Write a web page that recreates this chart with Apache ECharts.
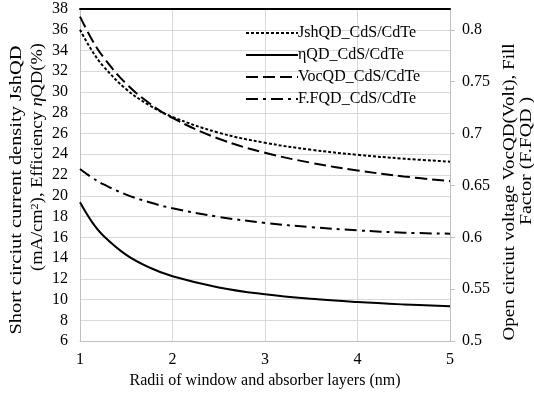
<!DOCTYPE html>
<html>
<head>
<meta charset="utf-8">
<script src="https://cdn.jsdelivr.net/npm/echarts@6/dist/echarts.min.js"></script>
<style>
  html, body { margin: 0; padding: 0; background: #fff; }
  #chart { width: 534px; height: 394px; }
</style>
</head>
<body>
<div id="chart"></div>
<script>
// Radius of window / absorber layers (nm)
const radii = [1, 1.125, 1.25, 1.5, 1.75, 2, 2.5, 3, 3.5, 4, 4.5, 5];

// Left axis: short circuit current density (mA/cm2) and efficiency (%)
const jshQD = [36.0, 34.04, 32.51, 30.27, 28.73, 27.6, 26.08, 25.11, 24.44, 23.95, 23.58, 23.29];
const etaQD = [19.37, 17.54, 16.18, 14.31, 13.09, 12.25, 11.17, 10.51, 10.07, 9.76, 9.53, 9.35];

// Right axis: open circuit voltage (V) and fill factor
const vocQD = [0.8126, 0.7912, 0.7739, 0.7479, 0.7292, 0.715, 0.695, 0.6815, 0.6718, 0.6644, 0.6587, 0.6541];
const ffQD = [0.6658, 0.6578, 0.6513, 0.6412, 0.6338, 0.628, 0.6197, 0.6139, 0.6098, 0.6067, 0.6045, 0.6035];

const seriesNames = ['JshQD_CdS/CdTe', '\u03b7QD_CdS/CdTe', 'VocQD_CdS/CdTe', 'F.FQD_CdS/CdTe'];
const rightTicks = [0.5, 0.55, 0.6, 0.65, 0.7, 0.75, 0.8];

const FONT = 'Liberation Serif';
const pair = (xs, ys) => xs.map((x, i) => [x, ys[i]]);

const chart = echarts.init(document.getElementById('chart'), null, { renderer: 'canvas' });

function lineSeries(name, data, yIndex, dash) {
  return {
    name: name,
    type: 'line',
    yAxisIndex: yIndex,
    data: data,
    smooth: 0.4,
    symbol: 'none',
    lineStyle: { color: '#000', width: 2, type: dash },
    itemStyle: { color: '#000' },
    z: 3
  };
}

// rotated axis title line (reads bottom to top), stretched along its length
function sideText(x, y, text, size, stretch, rich) {
  return {
    type: 'text', x: x, y: y, rotation: Math.PI / 2, scaleX: stretch, scaleY: 1,
    style: {
      text: text,
      font: size + 'px "Liberation Serif"', fill: '#000',
      align: 'center', verticalAlign: 'middle',
      rich: rich || {}
    }
  };
}

chart.setOption({
  animation: false,
  backgroundColor: '#fff',
  textStyle: { fontFamily: FONT, color: '#000' },
  grid: { left: 80, right: 84, top: 9, bottom: 51, containLabel: false },
  legend: {
    orient: 'vertical',
    left: 240,
    top: 20,
    itemWidth: 52,
    itemHeight: 14,
    itemGap: 6,
    data: seriesNames,
    lineStyle: { width: 2 },
    itemStyle: { color: 'rgba(0,0,0,0)', borderWidth: 0, opacity: 0 },
    textStyle: { fontFamily: FONT, fontSize: 16, color: '#000', padding: [0, 0, 0, -5] }
  },
  xAxis: [
    {
      type: 'value',
      min: 1, max: 5, interval: 1,
      name: 'Radii of window and absorber layers (nm)',
      nameLocation: 'middle',
      nameGap: 29,
      nameTextStyle: { fontFamily: FONT, fontSize: 16, color: '#000' },
      axisLine: { show: true, onZero: false, lineStyle: { color: '#bfbfbf', width: 1 } },
      axisTick: { show: false },
      axisLabel: { fontFamily: FONT, fontSize: 16, color: '#000', margin: 11 },
      splitLine: { show: true, lineStyle: { color: '#d9d9d9', width: 1 } }
    },
    {
      type: 'value',
      position: 'top',
      min: 1, max: 5,
      axisLine: { show: true, onZero: false, lineStyle: { color: '#000', width: 2 } },
      axisTick: { show: false },
      axisLabel: { show: false },
      splitLine: { show: false }
    }
  ],
  yAxis: [
    {
      type: 'value',
      min: 6, max: 38, interval: 2,
      position: 'left',
      axisLine: { show: true, onZero: false, lineStyle: { color: '#bfbfbf', width: 1 } },
      axisTick: { show: false },
      axisLabel: { fontFamily: FONT, fontSize: 16, color: '#000', margin: 12 },
      splitLine: { show: true, lineStyle: { color: '#d9d9d9', width: 1 } }
    },
    {
      type: 'value',
      min: 0.5, max: 0.82,
      position: 'right',
      axisLine: { show: true, onZero: false, lineStyle: { color: '#bfbfbf', width: 1 } },
      axisTick: { show: true, length: 5, customValues: rightTicks, lineStyle: { color: '#bfbfbf' } },
      axisLabel: {
        fontFamily: FONT, fontSize: 16, color: '#000', margin: 12,
        customValues: rightTicks,
        formatter: v => String(Math.round(v * 100) / 100)
      },
      splitLine: { show: false }
    }
  ],
  graphic: [
    sideText(17, 190, 'Short circiut current density JshQD', 17, 1.2),
    sideText(38, 157, '(mA/cm{s|2}), Efficiency {i|\u03b7}QD(%)', 16.5, 1.12, {
      s: { fontSize: 11, fontFamily: FONT, verticalAlign: 'top', fill: '#000' },
      i: { fontSize: 16.5, fontFamily: FONT, fontStyle: 'italic', fill: '#000' }
    }),
    sideText(510, 192, 'Open circiut voltage VocQD(Volt), Fill', 17, 1.12),
    sideText(527, 161, 'Factor (F.FQD )', 17, 1.17)
  ],
  series: [
    lineSeries(seriesNames[0], pair(radii, jshQD), 0, [3, 2]),
    lineSeries(seriesNames[1], pair(radii, etaQD), 0, 'solid'),
    lineSeries(seriesNames[2], pair(radii, vocQD), 1, [12, 5]),
    lineSeries(seriesNames[3], pair(radii, ffQD), 1, [12, 5, 3, 5])
  ]
});
</script>
</body>
</html>
